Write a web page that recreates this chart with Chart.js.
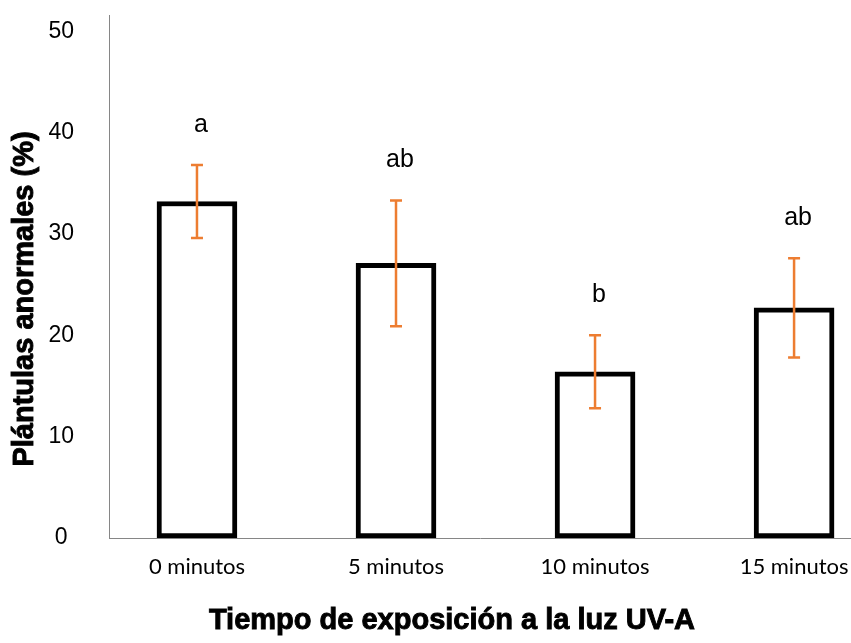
<!DOCTYPE html>
<html>
<head>
<meta charset="utf-8">
<script src="https://cdn.jsdelivr.net/npm/chart.js@4"></script>
<style>
  html, body { margin: 0; padding: 0; background: #fff; }
</style>
</head>
<body>
<canvas id="chart" width="851" height="643"></canvas>
<script>
(function() {
    const categories = ['0 minutos', '5 minutos', '10 minutos', '15 minutos'];
    const means = [33.2, 27.1, 16.4, 22.7];
    const errors = [3.6, 6.2, 3.6, 4.9];
    const letters = ['a', 'ab', 'b', 'ab'];
    const yTicks = [0, 10, 20, 30, 40, 50];

    const yTitle = 'Plántulas anormales (%)';
    const xTitle = 'Tiempo de exposición a la luz UV-A';

    const axisGray = '#868686';
    const errColor = '#ED7D31';

    // error bars + significance letters, drawn on top of the bars
    const errorBars = {
        id: 'errorBars',
        afterDatasetsDraw(chart) {
            const ctx = chart.ctx;
            const x = chart.scales.x;
            const y = chart.scales.y;
            ctx.save();
            ctx.strokeStyle = errColor;
            ctx.lineWidth = 2.5;
            means.forEach((m, i) => {
                const px = x.getPixelForValue(i);
                const top = y.getPixelForValue(m + errors[i]);
                const bot = y.getPixelForValue(m - errors[i]);
                ctx.beginPath();
                ctx.moveTo(px, top);
                ctx.lineTo(px, bot);
                ctx.moveTo(px - 6, top);
                ctx.lineTo(px + 6, top);
                ctx.moveTo(px - 6, bot);
                ctx.lineTo(px + 6, bot);
                ctx.stroke();

                ctx.fillStyle = '#000';
                ctx.font = '25px "Liberation Sans", Arial, sans-serif';
                ctx.textAlign = 'center';
                ctx.textBaseline = 'alphabetic';
                ctx.fillText(letters[i], px + 4, top - 33);
            });
            ctx.restore();
        }
    };

    // heavy axis titles
    const axisTitles = {
        id: 'axisTitles',
        afterDraw(chart) {
            const ctx = chart.ctx;
            ctx.save();
            ctx.fillStyle = '#000';
            ctx.strokeStyle = '#000';
            ctx.lineWidth = 0.9;
            ctx.font = 'bold 29px "Liberation Sans", Arial, sans-serif';
            ctx.textAlign = 'center';
            ctx.textBaseline = 'middle';

            ctx.fillText(xTitle, 452, 621);
            ctx.strokeText(xTitle, 452, 621);

            ctx.translate(25, 299);
            ctx.rotate(-Math.PI / 2);
            ctx.fillText(yTitle, 0, 0);
            ctx.strokeText(yTitle, 0, 0);
            ctx.restore();
        }
    };

    const ctx = document.getElementById('chart').getContext('2d');
    new Chart(ctx, {
        type: 'bar',
        data: {
            datasets: [{
                data: means.map((v, i) => ({ x: i, y: v })),
                backgroundColor: '#ffffff',
                borderColor: '#000000',
                borderWidth: 5,
                borderSkipped: false,
                barThickness: 80
            }]
        },
        options: {
            responsive: false,
            animation: false,
            devicePixelRatio: 1,
            layout: { padding: { top: 15, left: 0, right: 0, bottom: 0 } },
            plugins: {
                legend: { display: false },
                tooltip: { enabled: false }
            },
            scales: {
                x: {
                    type: 'linear',
                    offset: false,
                    min: -0.442,
                    max: 3.286,
                    afterBuildTicks: axis => { axis.ticks = categories.map((c, i) => ({ value: i })); },
                    afterFit: axis => {
                        axis.height = 105;
                        axis.paddingLeft = 0;
                        axis.paddingRight = 0;
                    },
                    grid: { display: false, drawTicks: false, offset: false },
                    border: { display: true, color: axisGray, width: 1 },
                    ticks: {
                        callback: v => categories[v],
                        color: '#000',
                        padding: 16,
                        maxRotation: 0,
                        autoSkip: false,
                        font: { family: 'Lato, "Noto Sans", sans-serif', size: 22 }
                    }
                },
                y: {
                    min: 0,
                    max: 51.6,
                    afterBuildTicks: axis => { axis.ticks = yTicks.map(v => ({ value: v })); },
                    afterFit: axis => {
                        axis.width = 109;
                        axis.paddingTop = 0;
                        axis.paddingBottom = 0;
                    },
                    grid: { display: false, drawTicks: false },
                    border: { display: true, color: axisGray, width: 1 },
                    ticks: {
                        color: '#000',
                        padding: 35,
                        crossAlign: 'center',
                        font: { family: '"Liberation Sans", Arial, sans-serif', size: 23 }
                    }
                }
            }
        },
        plugins: [errorBars, axisTitles]
    });
})();
</script>
</body>
</html>
